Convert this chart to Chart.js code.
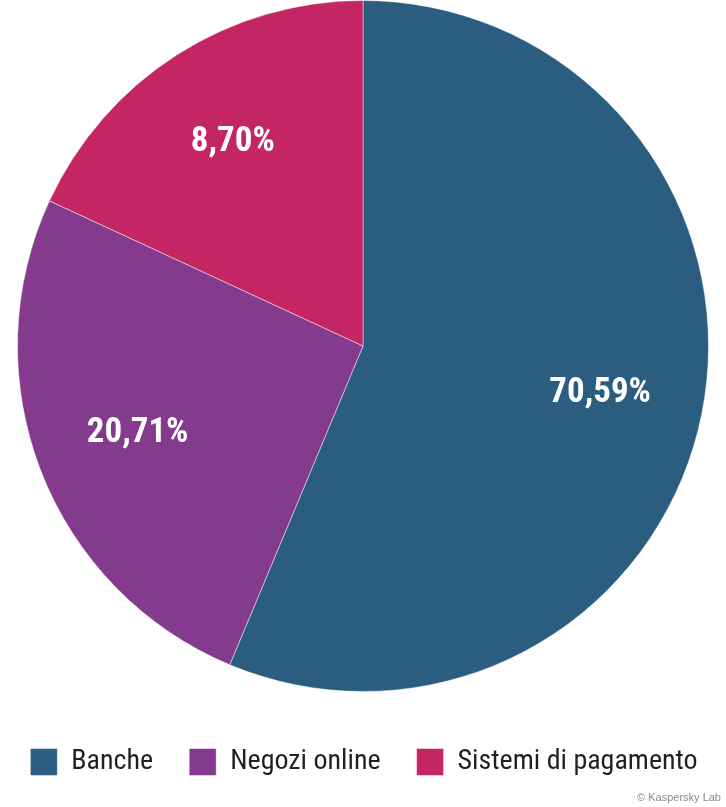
<!DOCTYPE html>
<html>
<head>
<meta charset="utf-8">
<script src="https://cdn.jsdelivr.net/npm/chart.js@4"></script>
<style>
  html, body { margin: 0; padding: 0; background: #fff; }
  #wrap { position: relative; width: 726px; height: 807px; }
  #credit { position: absolute; right: 5px; bottom: 4px; font: 11px "Liberation Sans", Arial, sans-serif; color: #8a8a8a; }
</style>
</head>
<body>
<div id="wrap">
  <canvas id="torta" width="726" height="807"></canvas>
  <div id="credit">© Kaspersky Lab</div>
</div>
<script>
// categorie e valori (fette come disegnate nel grafico originale)
categorie = ["Banche", "Negozi online", "Sistemi di pagamento"];
valori = [56.3, 25.6, 18.1];
etichette = ["70,59%", "20,71%", "8,70%"];
colori = ["#2b5d80", "#843a8d", "#c42664"];

fontCond = '"Roboto Condensed", "DejaVu Sans Condensed", sans-serif';

etichettePlugin = {
    id: 'etichette',
    afterDatasetsDraw: function(chart){
        ctx = chart.ctx;
        meta = chart.getDatasetMeta(0);
        ctx.save();
        ctx.fillStyle = '#ffffff';
        ctx.font = 'bold 35px ' + fontCond;
        ctx.textAlign = 'center';
        ctx.textBaseline = 'middle';
        for (i = 0; i < meta.data.length; i++) {
            arco = meta.data[i];
            medio = (arco.startAngle + arco.endAngle) / 2;
            r = arco.outerRadius * 0.7;
            ctx.fillText(etichette[i], arco.x + Math.cos(medio) * r, arco.y + Math.sin(medio) * r);
        }
        ctx.restore();
    }
};

const ctx0 = document.getElementById('torta');

new Chart(ctx0, {
  type: 'pie',
  data: {
    labels: categorie,
    datasets: [{
      data: valori,
      backgroundColor: colori,
      borderColor: 'rgba(255,255,255,0.45)',
      borderWidth: 1
    }]
  },
  options: {
    responsive: false,
    animation: false,
    layout: { padding: { left: -20, right: -22, top: 0, bottom: 21 } },
    plugins: {
      tooltip: { enabled: false },
      legend: {
        position: 'bottom',
        title: { display: true, text: '', padding: { top: 19, bottom: 0 }, font: { size: 1, lineHeight: 1 } },
        labels: {
          boxWidth: 27,
          boxHeight: 27,
          padding: 36,
          color: '#231f20',
          font: { family: fontCond, size: 28 }
        }
      }
    }
  },
  plugins: [etichettePlugin]
});
</script>
</body>
</html>
